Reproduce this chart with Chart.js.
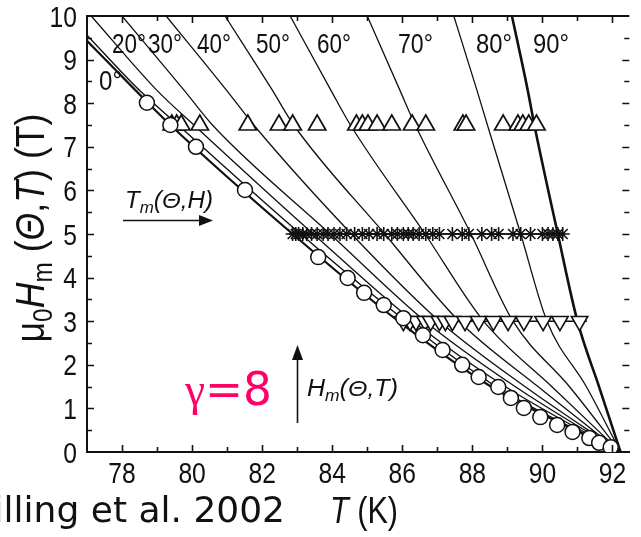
<!DOCTYPE html>
<html><head><meta charset="utf-8">
<script src="https://cdn.jsdelivr.net/npm/chart.js@4.4.0/dist/chart.umd.min.js"></script>
<style>html,body{margin:0;padding:0;background:#fff;overflow:hidden}</style>
</head><body>
<canvas id="c" width="641" height="537"></canvas>
<script>
// ---- melting lines H_m(Theta,T): temperature (K) and field (T) ----
const angleLabels = ['0°','10°','20°','30°','40°','50°','60°','70°','80°','90°'];
const line0T  = [77.00, 78.38, 79.38, 82.87, 85.89, 88.55, 92.23];
const line0H  = [9.43, 8.30, 7.50, 5.00, 3.00, 1.49, 0];
const line10T = [77.00, 78.49, 79.60, 83.10, 86.10, 88.70, 92.23];
const line10H = [9.56, 8.30, 7.50, 5.00, 3.00, 1.49, 0];
const lineH   = [10, 8.30, 7.50, 5.00, 3.00, 1.49, 0];
const line20T = [77.12, 78.99, 80.05, 83.46, 86.31, 88.96, 92.23];
const line30T = [78.00, 79.77, 80.58, 83.94, 86.65, 89.24, 92.23];
const line40T = [79.26, 80.98, 81.76, 84.55, 87.06, 89.52, 92.23];
const line50T = [80.94, 82.29, 82.90, 85.50, 87.62, 89.89, 92.23];
const line60T = [82.80, 83.96, 84.52, 86.65, 88.32, 90.28, 92.23];
const line70T = [85.00, 85.93, 86.37, 87.96, 89.16, 90.78, 92.23];
const line80T = [87.47, 88.13, 88.43, 89.38, 90.13, 91.26, 92.23];
const line90T = [89.13, 89.58, 89.77, 90.44, 91.00, 91.62, 92.23];

// ---- measured points ----
const circleT = [78.71,79.38,80.11,81.51,83.60,84.44,84.91,85.47,86.03,86.59,87.15,87.71,88.18,88.74,89.10,89.47,89.94,90.42,90.86,91.34,91.62,91.95];
const circleH = [8.01,7.50,7.00,6.01,4.47,3.99,3.65,3.37,3.07,2.68,2.34,2.00,1.72,1.49,1.24,1.01,0.80,0.62,0.46,0.32,0.21,0.11];
const triUpT  = [79.42,79.56,79.69,80.22,81.59,82.48,82.87,83.57,84.69,84.86,85.02,85.28,85.70,86.28,86.67,87.73,87.82,88.88,89.30,89.44,89.61,89.83];
const triUpH  = 7.5;
const starT   = [82.87,82.96,83.04,83.16,83.27,83.41,83.57,83.74,83.88,84.05,84.22,84.41,84.64,84.86,85.05,85.28,85.47,85.70,85.86,86.03,86.17,86.31,86.48,86.67,86.87,87.06,87.43,87.71,87.90,88.27,88.55,88.75,89.16,89.38,89.66,90.00,90.16,90.30,90.44,90.58];
const starH   = 5.0;
const triDnT  = [85.85,86.03,86.22,86.39,86.65,86.81,87.06,87.23,87.43,87.79,88.18,88.60,89.02,89.47,90.02,90.50,91.06,91.27];
const triDnH  = 3.0;

// ---- axes ----
const xMin = 77, xMax = 92.48, yMin = 0, yMax = 10;
const xTickLabels = [78,80,82,84,86,88,90,92];
const yTickLabels = [0,1,2,3,4,5,6,7,8,9,10];

const FAM = "'Liberation Sans', Arimo, Helvetica, Arial, Roboto, sans-serif";
const pts = (T, H) => T.map((t, i) => ({x: t, y: Array.isArray(H) ? H[i] : H}));
const lineSets = [
  [line0T, line0H, 2.2], [line10T, line10H, 1.4], [line20T, lineH, 1.3], [line30T, lineH, 1.3],
  [line40T, lineH, 1.3], [line50T, lineH, 1.3], [line60T, lineH, 1.3], [line70T, lineH, 1.3],
  [line80T, lineH, 1.3], [line90T, lineH, 2.6]
];

const datasets = [
  {label:'circles', data: pts(circleT, circleH), pointStyle:'circle', pointRadius:7.5, borderColor:'#111', backgroundColor:'#fff', borderWidth:1.5, showLine:false},
  {label:'up', data: pts(triUpT, triUpH), pointStyle:'triangle', pointRadius:10, borderColor:'#111', backgroundColor:'#fff', borderWidth:1.7, showLine:false},
  {label:'star', data: pts(starT, starH), pointStyle:'star', pointRadius:7, borderColor:'#111', backgroundColor:'#111', showLine:true, borderWidth:1.6},
  {label:'down', data: pts(triDnT, triDnH), pointStyle:'triangle', pointRotation:180, pointRadius: triDnT.map((t,i)=> (i===0||i===triDnT.length-1)?0:9.5), borderColor:'#111', backgroundColor:'#fff', borderWidth:1.6, showLine:true}
];
lineSets.forEach((s, i) => datasets.push({
  label: angleLabels[i], data: pts(s[0], s[1]), showLine:true, pointRadius:0,
  borderColor:'#111', borderWidth:s[2], cubicInterpolationMode:'monotone', fill:false
}));

// draw mixed-font text; optionally squeeze horizontally to a target width
function rich(ctx, x, y, segs, align, targetW) {
  let w = 0;
  segs.forEach(s => { ctx.font = s.f; w += ctx.measureText(s.t).width; });
  const sx = targetW ? targetW / w : 1, W = w * sx;
  const x0 = align === 'center' ? x - W/2 : align === 'right' ? x - W : x;
  ctx.save(); ctx.translate(x0, y); ctx.scale(sx, 1);
  let cx = 0;
  segs.forEach(s => { ctx.font = s.f; ctx.fillText(s.t, cx, s.dy||0); cx += ctx.measureText(s.t).width; });
  ctx.restore();
}

const decor = {
  id:'decor',
  afterDraw(chart) {
    const ctx = chart.ctx, xs = chart.scales.x, ys = chart.scales.y, a = chart.chartArea;
    ctx.save();
    ctx.strokeStyle = '#111'; ctx.lineWidth = 2;
    ctx.beginPath(); ctx.moveTo(a.left, a.top); ctx.lineTo(a.right, a.top); ctx.stroke();
    ctx.lineWidth = 1.6;
    for (let t = 78; t <= 92; t++) {
      const px = Math.round(xs.getPixelForValue(t)) + 0.5, L = (t % 2 === 0) ? 7 : 5;
      ctx.beginPath(); ctx.moveTo(px, a.bottom); ctx.lineTo(px, a.bottom - L);
      ctx.moveTo(px, a.top); ctx.lineTo(px, a.top + L); ctx.stroke();
    }
    for (let h = 0.5; h < 10; h += 0.5) {
      const py = Math.round(ys.getPixelForValue(h)) + 0.5, L = (h % 1 === 0) ? 7 : 5;
      ctx.beginPath(); ctx.moveTo(a.left, py); ctx.lineTo(a.left + L, py);
      ctx.moveTo(a.right, py); ctx.lineTo(a.right - L, py); ctx.stroke();
    }
    ctx.fillStyle = '#111'; ctx.textBaseline = 'alphabetic';
    // tick labels (condensed)
    const TF = "29px " + FAM;
    xTickLabels.forEach(v => rich(ctx, xs.getPixelForValue(v), 483, [{t:String(v), f:TF}], 'center', 13.7*String(v).length));
    yTickLabels.forEach(v => rich(ctx, 77, ys.getPixelForValue(v) + 10.5, [{t:String(v), f:TF}], 'right', 13.7*String(v).length));
    // angle labels
    const AF = "27px " + FAM;
    const lab = [['0°',99,90,23],['20°',112,53,34],['30°',148,53,34],['40°',197,53,34],['50°',256,53,34],['60°',317,53,34],['70°',398,53,35],['80°',476,53,36],['90°',533,53,36]];
    lab.forEach(l => rich(ctx, l[1], l[2], [{t:l[0], f:AF}], 'left', l[3]));
    const it = "italic 23px " + FAM, its = "italic 16px " + FAM;
    rich(ctx, 125, 208, [{t:'T',f:it},{t:'m',f:its,dy:5},{t:'(Θ,H)',f:it}], 'left', 88);
    ctx.lineWidth = 1.6;
    ctx.beginPath(); ctx.moveTo(123, 220.5); ctx.lineTo(201, 220.5); ctx.stroke();
    ctx.beginPath(); ctx.moveTo(199, 215); ctx.lineTo(213, 220.5); ctx.lineTo(199, 226); ctx.closePath(); ctx.fill();
    rich(ctx, 307, 396, [{t:'H',f:it},{t:'m',f:its,dy:5},{t:'(Θ,T)',f:it}], 'left', 91);
    ctx.beginPath(); ctx.moveTo(297.5, 423); ctx.lineTo(297.5, 358); ctx.stroke();
    ctx.beginPath(); ctx.moveTo(292, 360); ctx.lineTo(297.5, 345); ctx.lineTo(303, 360); ctx.closePath(); ctx.fill();
    // y axis title
    ctx.save(); ctx.translate(44, 228); ctx.rotate(-Math.PI/2);
    const F = "41px " + FAM, FI = "italic 41px " + FAM, FS = "28px " + FAM;
    rich(ctx, 0, 0, [{t:'μ',f:F},{t:'0',f:FS,dy:8},{t:'H',f:FI},{t:'m',f:FS,dy:8},{t:' (',f:F},{t:'Θ',f:FI},{t:',',f:F},{t:'T',f:FI},{t:') (T)',f:F}], 'center', 229);
    ctx.restore();
    // x axis title
    rich(ctx, 364, 523, [{t:'T',f:"italic 36px " + FAM},{t:' (K)',f:"36px " + FAM}], 'center', 68);
    // citation
    ctx.font = "36px 'DejaVu Sans', sans-serif"; ctx.textAlign = 'right';
    ctx.fillText('Schilling et al. 2002', 285, 522);
    ctx.textAlign = 'left';
    ctx.fillStyle = '#ff0066';
    rich(ctx, 185, 405, [{t:'γ',f:"46px 'Liberation Serif', 'DejaVu Serif', serif"},{t:'=8',f:"46px 'DejaVu Sans', sans-serif"}], 'left', 87);
    ctx.restore();
  }
};

new Chart(document.getElementById('c'), {
  type:'scatter',
  data:{datasets},
  options:{
    responsive:false, animation:false, devicePixelRatio:1,
    layout:{padding:{top:16, right:0, left:0, bottom:0}},
    plugins:{legend:{display:false}, tooltip:{enabled:false}},
    scales:{
      x:{type:'linear', min:xMin, max:xMax,
        afterFit(s){ s.height = 85; },
        grid:{display:false, drawTicks:false},
        border:{display:true, color:'#111', width:2},
        ticks:{display:false, stepSize:1, includeBounds:false}
      },
      y:{type:'linear', min:yMin, max:yMax,
        afterFit(s){ s.width = 87; },
        grid:{display:false, drawTicks:false},
        border:{display:true, color:'#111', width:2},
        ticks:{display:false, stepSize:1}
      }
    }
  },
  plugins:[decor]
});
</script>
</body></html>
